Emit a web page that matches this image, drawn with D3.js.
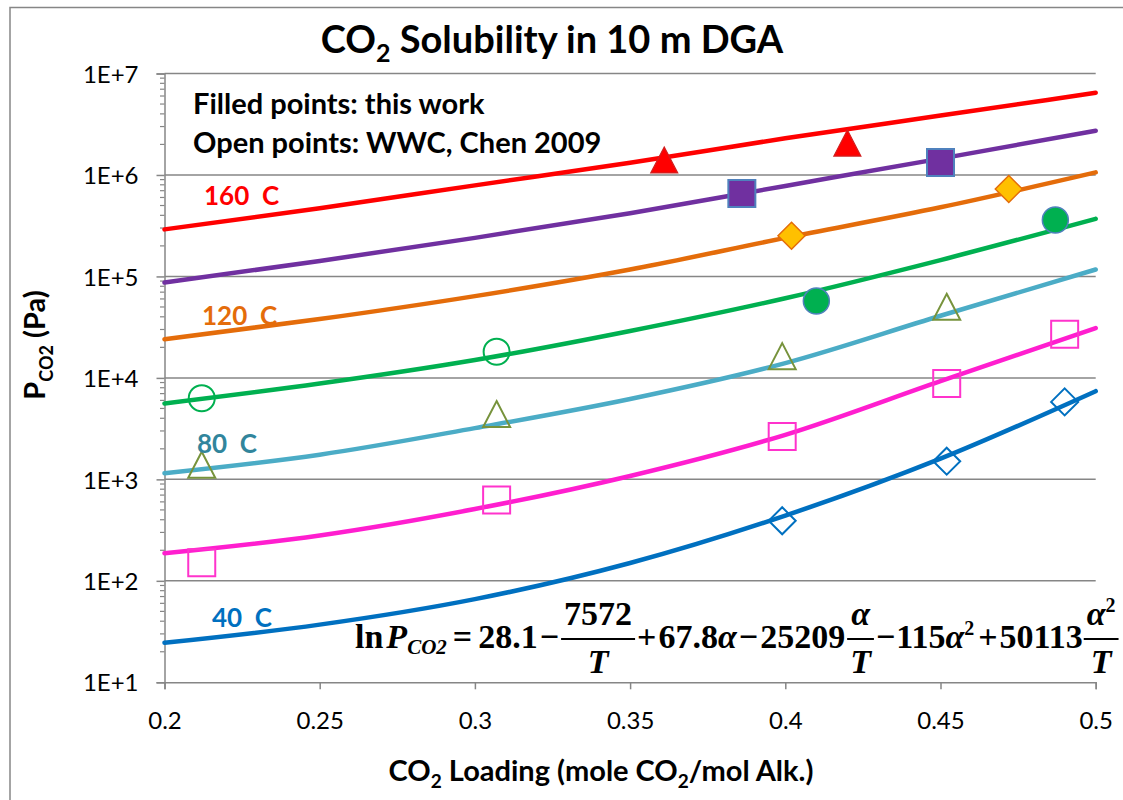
<!DOCTYPE html>
<html>
<head>
<meta charset="utf-8">
<script src="https://cdn.jsdelivr.net/npm/d3@7"></script>
<style>
  body { margin: 0; background: #fff; }
  text { font-family: Lato, "Open Sans", "DejaVu Sans", sans-serif; }
</style>
</head>
<body>
<svg id="chart" width="1123" height="800"></svg>
<script>
// ---- data -------------------------------------------------------------
// CO2 loading (mol CO2 / mol alkalinity) at which the model curves are tabulated
const loadings = [0.2, 0.25, 0.3, 0.35, 0.4, 0.45, 0.5];

// Model P_CO2 (Pa) along each isotherm
const model40C  = [24.5, 37, 66, 150, 440, 1600, 7400];
const model60C  = [187, 280, 510, 1080, 2750, 9300, 31000];
const model80C  = [1150, 1750, 3200, 6200, 14000, 41000, 117000];
const model100C = [5600, 8800, 15000, 29000, 61000, 145000, 370000];
const model120C = [24000, 38000, 64000, 117000, 240000, 480000, 1060000];
const model140C = [87000, 142000, 240000, 420000, 780000, 1450000, 2730000];
const model160C = [291000, 470000, 790000, 1320000, 2300000, 3850000, 6450000];

// Filled points: this work
const work160Loading = [0.361, 0.420];
const work160P       = [1390000, 2040000];
const work140Loading = [0.386, 0.450];
const work140P       = [656000, 1330000];
const work120Loading = [0.402, 0.472];
const work120P       = [252000, 727000];
const work100Loading = [0.410, 0.487];
const work100P       = [57200, 360000];

// Open points: WWC, Chen 2009
const chen100Loading = [0.212, 0.307];
const chen100P       = [6300, 18100];
const chen80Loading  = [0.212, 0.307, 0.399, 0.452];
const chen80P        = [1380, 4350, 16200, 49600];
const chen60Loading  = [0.212, 0.307, 0.399, 0.452, 0.490];
const chen60P        = [151, 625, 2650, 8800, 26900];
const chen40Loading  = [0.399, 0.452, 0.490];
const chen40P        = [391, 1510, 5800];

// Axis ticks
const xTicks = [0.2, 0.25, 0.3, 0.35, 0.4, 0.45, 0.5];
const yTicks = [1e1, 1e2, 1e3, 1e4, 1e5, 1e6, 1e7];
const yTickLabels = ["1E+1", "1E+2", "1E+3", "1E+4", "1E+5", "1E+6", "1E+7"];

// ---- setup ------------------------------------------------------------
const svg = d3.select("#chart");
const W = 1123, H = 800;
const plot = { left: 164.5, right: 1095.7, top: 73.5, bottom: 682.3 };
const gray = "#868686";

const x = d3.scaleLinear().domain([0.2, 0.5]).range([plot.left, plot.right]);
const y = d3.scaleLog().domain([10, 1e7]).range([plot.bottom, plot.top]);

svg.append("rect").attr("width", W).attr("height", H).attr("fill", "#fff");

// chart frame (only the top and left edges fall inside the page)
svg.append("rect")
  .attr("x", 10).attr("y", 7.5).attr("width", W + 50).attr("height", H + 50)
  .attr("fill", "none").attr("stroke", gray).attr("stroke-width", 1.5);

// horizontal gridlines at each decade
svg.append("g").selectAll("line").data(yTicks.slice(1)).join("line")
  .attr("x1", plot.left).attr("x2", plot.right)
  .attr("y1", d => y(d)).attr("y2", d => y(d))
  .attr("stroke", gray).attr("stroke-width", 1.5);

// y axis
const yAxis = d3.axisLeft(y).tickValues(yTicks).tickSize(8)
  .tickFormat((d, i) => yTickLabels[i]);
const gy = svg.append("g").attr("transform", `translate(${plot.left},0)`).call(yAxis);
gy.select(".domain").attr("stroke", gray).attr("stroke-width", 1.5);
gy.selectAll(".tick line").attr("stroke", gray).attr("stroke-width", 1.5);
gy.selectAll(".tick text").attr("font-size", 24).attr("fill", "#000")
  .attr("font-family", "Lato, sans-serif").attr("x", -26).attr("dy", "0.36em");

// minor log ticks
const minor = [];
for (let e = 1; e < 7; e++) for (let m = 2; m <= 9; m++) minor.push(m * Math.pow(10, e));
svg.append("g").selectAll("line").data(minor).join("line")
  .attr("x1", plot.left - 4.5).attr("x2", plot.left)
  .attr("y1", d => y(d)).attr("y2", d => y(d))
  .attr("stroke", gray).attr("stroke-width", 1.2);

// x axis
const xAxis = d3.axisBottom(x).tickValues(xTicks).tickSize(7).tickFormat(d3.format("~g"));
const gx = svg.append("g").attr("transform", `translate(0,${plot.bottom})`).call(xAxis);
gx.select(".domain").attr("stroke", gray).attr("stroke-width", 1.5);
gx.selectAll(".tick line").attr("stroke", gray).attr("stroke-width", 1.5);
gx.selectAll(".tick text").attr("font-size", 24).attr("fill", "#000")
  .attr("font-family", "Lato, sans-serif").attr("y", 30).attr("dy", "0.71em");

// ---- model curves -----------------------------------------------------
const curves = [
  { vals: model40C,  color: "#0070C0" },
  { vals: model60C,  color: "#FF1ECF" },
  { vals: model80C,  color: "#4BACC6" },
  { vals: model100C, color: "#00B050" },
  { vals: model120C, color: "#E46C0A" },
  { vals: model140C, color: "#7030A0" },
  { vals: model160C, color: "#FF0000" }
];
const line = d3.line().x(d => x(d[0])).y(d => y(d[1])).curve(d3.curveMonotoneX);
svg.append("g").selectAll("path").data(curves).join("path")
  .attr("d", c => line(loadings.map((a, i) => [a, c.vals[i]])))
  .attr("fill", "none").attr("stroke", c => c.color)
  .attr("stroke-width", 4.5).attr("stroke-linecap", "round");

// ---- markers ----------------------------------------------------------
const S = 27; // marker box size
const half = S / 2;
const shapes = {
  square:   `M${-half},${-half}H${half}V${half}H${-half}Z`,
  diamond:  `M0,${-half}L${half},0L0,${half}L${-half},0Z`,
  triangle: `M0,${-half}L${half},${half - 1}L${-half},${half - 1}Z`
};
function drawMarkers(loads, vals, shape, fill, stroke, sw) {
  const pts = loads.map((a, i) => [a, vals[i]]);
  const g = svg.append("g");
  if (shape === "circle") {
    g.selectAll("circle").data(pts).join("circle")
      .attr("cx", d => x(d[0])).attr("cy", d => y(d[1])).attr("r", half - 0.5)
      .attr("fill", fill).attr("stroke", stroke).attr("stroke-width", sw);
  } else {
    g.selectAll("path").data(pts).join("path")
      .attr("transform", d => `translate(${x(d[0])},${y(d[1])})`)
      .attr("d", shapes[shape])
      .attr("fill", fill).attr("stroke", stroke).attr("stroke-width", sw)
      .attr("stroke-linejoin", "miter");
  }
}
// open points
drawMarkers(chen100Loading, chen100P, "circle", "none", "#00B050", 2);
drawMarkers(chen80Loading, chen80P, "triangle", "none", "#77933C", 2);
drawMarkers(chen60Loading, chen60P, "square", "none", "#FF33CC", 2);
drawMarkers(chen40Loading, chen40P, "diamond", "none", "#0070C0", 2);
// filled points
drawMarkers(work160Loading, work160P, "triangle", "#FF0000", "#D02020", 1.2);
drawMarkers(work140Loading, work140P, "square", "#7030A0", "#4F81BD", 2);
drawMarkers(work120Loading, work120P, "diamond", "#FFC000", "#E46C0A", 1.5);
drawMarkers(work100Loading, work100P, "circle", "#00B050", "#4F81BD", 1.5);

// ---- curve labels -----------------------------------------------------
const curveLabels = [
  { text: "160  C", color: "#FF0000", x: 204, y: 205 },
  { text: "120  C", color: "#E46C0A", x: 202, y: 325 },
  { text: "80  C",  color: "#31859C", x: 197, y: 453 },
  { text: "40  C",  color: "#0070C0", x: 212, y: 627 }
];
svg.append("g").selectAll("text").data(curveLabels).join("text")
  .attr("x", d => d.x).attr("y", d => d.y)
  .attr("fill", d => d.color).attr("font-size", 26).attr("font-weight", "bold")
  .style("white-space", "pre").text(d => d.text);

// ---- notes ------------------------------------------------------------
const notes = svg.append("g").attr("font-size", 29).attr("font-weight", "bold").attr("fill", "#000");
notes.append("text").attr("x", 193).attr("y", 114).text("Filled points: this work");
notes.append("text").attr("x", 193).attr("y", 153).text("Open points: WWC, Chen 2009");

// ---- title ------------------------------------------------------------
const title = svg.append("text").attr("x", 552).attr("y", 53)
  .attr("text-anchor", "middle").attr("font-size", 38).attr("font-weight", "bold");
title.append("tspan").text("CO");
title.append("tspan").attr("font-size", 25).attr("dy", 9).text("2");
title.append("tspan").attr("dy", -9).text(" Solubility in 10 m DGA");

// ---- axis titles ------------------------------------------------------
const xt = svg.append("text").attr("x", 601).attr("y", 781)
  .attr("text-anchor", "middle").attr("font-size", 29).attr("font-weight", "bold");
xt.append("tspan").text("CO");
xt.append("tspan").attr("font-size", 19).attr("dy", 7).text("2");
xt.append("tspan").attr("dy", -7).text(" Loading (mole CO");
xt.append("tspan").attr("font-size", 19).attr("dy", 7).text("2");
xt.append("tspan").attr("dy", -7).text("/mol Alk.)");

const yt = svg.append("text").attr("transform", "translate(45,345) rotate(-90)")
  .attr("text-anchor", "middle").attr("font-size", 29).attr("font-weight", "bold");
yt.append("tspan").text("P");
yt.append("tspan").attr("font-size", 18).attr("dy", 8).text("CO2");
yt.append("tspan").attr("dy", -8).text(" (Pa)");

// ---- fitted correlation ----------------------------------------------
const eq = svg.append("g")
  .attr("font-family", "'Liberation Serif', 'Times New Roman', serif")
  .attr("font-weight", "bold").attr("fill", "#000");
const base = 648, fs = 34;
let cur = 355;
function piece(str, opt = {}) {
  const t = eq.append("text").attr("x", cur).attr("y", base + (opt.dy || 0))
    .attr("font-size", opt.size || fs)
    .attr("font-style", opt.italic ? "italic" : "normal")
    .style("font-family", "'Liberation Serif', serif").text(str);
  cur += t.node().getComputedTextLength() + (opt.gap || 0);
  return t;
}
function frac(num, numSup, den) {
  const startX = cur;
  const n = eq.append("text").attr("y", base - 23).attr("font-size", fs)
    .style("font-family", "'Liberation Serif', serif");
  n.append("tspan").attr("font-style", num === "7572" ? "normal" : "italic").text(num);
  if (numSup) n.append("tspan").attr("font-size", 20).attr("dy", -13).attr("font-style", "normal").text(numSup);
  const d = eq.append("text").attr("y", base + 25).attr("font-size", fs)
    .attr("font-style", "italic").style("font-family", "'Liberation Serif', serif").text(den);
  const wn = n.node().getComputedTextLength(), wd = d.node().getComputedTextLength();
  const w = Math.max(wn, wd) + 6;
  n.attr("x", startX + (w - wn) / 2);
  d.attr("x", startX + (w - wd) / 2);
  eq.append("line").attr("x1", startX).attr("x2", startX + w)
    .attr("y1", base - 9).attr("y2", base - 9).attr("stroke", "#000").attr("stroke-width", 2);
  cur += w + 2;
}
piece("ln", { gap: 3 });
piece("P", { italic: true });
piece("CO2", { italic: true, size: 21, dy: 6, gap: 6 });
piece("=", { gap: 6 });
piece("28.1", { gap: 2 });
piece("\u2212", { gap: 2 });
frac("7572", null, "T");
piece("+", { gap: 2 });
piece("67.8", {});
piece("\u03b1", { italic: true, gap: 2 });
piece("\u2212", { gap: 2 });
piece("25209", { gap: 2 });
frac("\u03b1", null, "T");
piece("\u2212", { gap: 1 });
piece("115", {});
piece("\u03b1", { italic: true });
piece("2", { size: 20, dy: -13, gap: 4 });
piece("+", { gap: 2 });
piece("50113", { gap: 1 });
frac("\u03b1", "2", "T");
</script>
</body>
</html>
